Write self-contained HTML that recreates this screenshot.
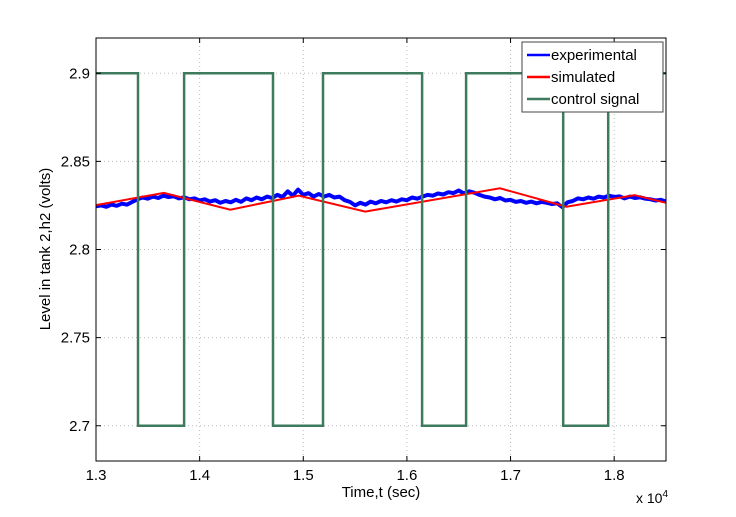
<!DOCTYPE html>
<html><head><meta charset="utf-8"><style>
body{margin:0;background:#fff;}
svg{display:block;font-family:"Liberation Sans",Arial,sans-serif;}
</style></head><body>
<svg id="chart" width="736" height="517" xmlns="http://www.w3.org/2000/svg">
<rect x="0" y="0" width="736" height="517" fill="#fff"/>
<g id="grid"></g>
<g id="series"></g>
<rect x="96" y="38" width="570" height="423" fill="none" stroke="#000" stroke-width="1"/>
<g id="axes"></g>
<text x="381" y="497" font-size="15" text-anchor="middle">Time,t (sec)</text>
<text x="636" y="503" font-size="14">x 10<tspan font-size="10" dy="-6">4</tspan></text>
<text transform="translate(50,249) rotate(-90)" font-size="15" text-anchor="middle">Level in tank 2,h2 (volts)</text>
<g>
<rect x="522" y="42" width="141" height="70" fill="#fff" stroke="#444" stroke-width="1"/>
<g><line x1="527" y1="55" x2="550" y2="55" stroke="#0000ff" stroke-width="2.5"/><text x="551" y="60" font-size="15">experimental</text></g>
<g><line x1="527" y1="77" x2="550" y2="77" stroke="#ff0000" stroke-width="2.5"/><text x="551" y="82" font-size="15">simulated</text></g>
<g><line x1="527" y1="99" x2="550" y2="99" stroke="#3e7a5e" stroke-width="2.5"/><text x="551" y="104" font-size="15">control signal</text></g>
</g>
</svg>
<script>
const xTicks = [1.3,1.4,1.5,1.6,1.7,1.8];
const xTickLabels = ["1.3","1.4","1.5","1.6","1.7","1.8"];
const yTicks = [2.7,2.75,2.8,2.85,2.9];
const yTickLabels = ["2.7","2.75","2.8","2.85","2.9"];
const controlT = [1.3,1.3405,1.3405,1.385,1.385,1.4708,1.4708,1.519,1.519,1.6147,1.6147,1.6571,1.6571,1.7508,1.7508,1.7942,1.7942,1.85];
const controlV = [2.9,2.9,2.7,2.7,2.9,2.9,2.7,2.7,2.9,2.9,2.7,2.7,2.9,2.9,2.7,2.7,2.9,2.9];
const simT = [1.3,1.3654,1.4296,1.4956,1.5598,1.6898,1.7539,1.8198,1.85];
const simV = [2.8252,2.8321,2.8226,2.8306,2.8215,2.8347,2.8243,2.8308,2.8265];
const expStart = 1.3, expStep = 0.005;
const expV = [2.8245,2.8250,2.8242,2.8255,2.8248,2.8260,2.8255,2.8270,2.8285,
2.8295,2.8288,2.8300,2.8292,2.8305,2.8298,2.8302,2.8290,
2.8296,2.8285,2.8290,2.8278,2.8285,2.8272,2.8280,2.8265,2.8275,2.8268,
2.8282,2.8270,2.8290,2.8280,2.8295,2.8285,2.8300,2.8292,2.8310,2.8298,
2.8330,2.8305,2.8340,2.8310,2.8320,2.8300,2.8315,2.8300,2.8310,2.8295,
2.8300,2.8280,2.8270,2.8250,2.8265,2.8255,2.8272,2.8262,2.8275,2.8268,
2.8280,2.8272,2.8285,2.8280,2.8295,2.8288,2.8300,2.8310,2.8305,2.8318,
2.8312,2.8325,2.8320,2.8335,2.8318,2.8330,2.8322,2.8310,2.8300,2.8295,
2.8285,2.8292,2.8278,2.8282,2.8270,2.8275,2.8265,2.8272,2.8262,2.8270,
2.8265,2.8258,2.8262,2.8240,2.8268,2.8275,2.8290,2.8285,2.8295,2.8288,
2.8300,2.8295,2.8305,2.8298,2.8302,2.8290,2.8300,2.8292,2.8296,2.8288,
2.8285,2.8278,2.8282,2.8272];

const X0=96,X1=666,Y0=461,Y1=38, xmin=1.3,xmax=1.85,ymin=2.68,ymax=2.92;
function xs(v){return X0+(v-xmin)/(xmax-xmin)*(X1-X0);}
function ys(v){return Y0-(v-ymin)/(ymax-ymin)*(Y0-Y1);}
const NS="http://www.w3.org/2000/svg";
function mk(tag,attrs,parent){const e=document.createElementNS(NS,tag);for(const k in attrs)e.setAttribute(k,attrs[k]);parent.appendChild(e);return e;}
const grid=document.getElementById('grid'), axes=document.getElementById('axes'), series=document.getElementById('series');
xTicks.forEach((t,i)=>{
  const x=xs(t);
  const g=mk('line',{x1:x,y1:Y1,x2:x,y2:Y0,stroke:'#bbb','stroke-dasharray':'1,3','stroke-width':1},grid);
  
  
  mk('line',{x1:x,y1:Y0,x2:x,y2:Y0-5,stroke:'#000'},axes);
  mk('line',{x1:x,y1:Y1,x2:x,y2:Y1+5,stroke:'#000'},axes);
  const tx=mk('text',{x:x,y:Y0+19,'font-size':15,'text-anchor':'middle'},axes);
  tx.textContent=xTickLabels[i];
  
  
});
yTicks.forEach((t,i)=>{
  const y=ys(t);
  const g=mk('line',{x1:X0,y1:y,x2:X1,y2:y,stroke:'#bbb','stroke-dasharray':'1,3','stroke-width':1},grid);
  
  
  mk('line',{x1:X0,y1:y,x2:X0+5,y2:y,stroke:'#000'},axes);
  mk('line',{x1:X1,y1:y,x2:X1-5,y2:y,stroke:'#000'},axes);
  const tx=mk('text',{x:X0-6,y:y+5,'font-size':15,'text-anchor':'end'},axes);
  tx.textContent=yTickLabels[i];
  
  
});
function path(ts,vs){return ts.map((t,i)=>(i?'L':'M')+xs(t).toFixed(1)+','+ys(vs[i]).toFixed(1)).join('');}
const expT=expV.map((v,i)=>expStart+i*expStep);
const pe=mk('path',{d:path(expT,expV),fill:'none',stroke:'#0000ff','stroke-width':4,'stroke-linejoin':'round'},series);


const ps=mk('path',{d:path(simT,simV),fill:'none',stroke:'#ff0000','stroke-width':2},series);


const pc=mk('path',{d:path(controlT,controlV),fill:'none',stroke:'#3e7a5e','stroke-width':2.5},series);


</script>
</body></html>
